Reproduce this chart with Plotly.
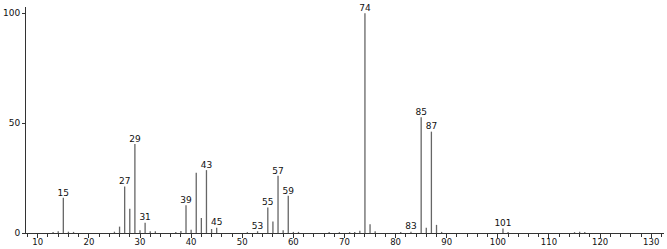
import plotly.graph_objects as go

mz = [13, 14, 15, 16, 17, 25, 26, 27, 28, 29, 30, 31, 32, 33, 37, 38, 39, 40, 41, 42, 43, 44, 45,
      51, 53, 55, 56, 57, 58, 59, 60, 61, 67, 69, 71, 72, 73, 74, 75, 76, 81, 83, 85, 86, 87, 88, 89,
      101, 102, 115, 116, 117]
intensity = [0.5, 0.8, 16.0, 0.6, 0.5, 0.6, 2.9, 21.1, 11.0, 40.5, 1.3, 4.7, 0.8, 0.8, 0.5, 0.9, 12.6, 1.5, 27.4, 6.8, 28.6, 1.8, 2.4,
             0.4, 0.8, 11.6, 5.2, 26.0, 1.3, 16.9, 0.5, 0.5, 0.4, 0.4, 0.4, 0.5, 1.0, 100.0, 4.0, 0.8, 0.4, 0.6, 52.6, 2.4, 46.1, 3.7, 0.5,
             2.1, 0.5, 0.4, 0.6, 0.4]

label_mz = [15, 27, 29, 31, 39, 43, 45, 53, 55, 57, 59, 74, 83, 85, 87, 101]
label_text = ["15", "27", "29", "31", "39", "43", "45", "53", "55", "57", "59", "74", "83", "85", "87", "101"]

x_ticks = [10, 20, 30, 40, 50, 60, 70, 80, 90, 100, 110, 120, 130]
x_tick_text = ["10", "20", "30", "40", "50", "60", "70", "80", "90", "100", "110", "120", "130"]
y_ticks = [0, 50, 100]
y_tick_text = ["0", "50", "100"]

lookup = dict(zip(mz, intensity))

xs, ys = [], []
for m, v in zip(mz, intensity):
    xs += [m, m, None]
    ys += [0, v, None]

fig = go.Figure()
fig.add_trace(go.Scatter(x=xs, y=ys, mode="lines", line=dict(color="#666666", width=1.3),
                         hoverinfo="skip", showlegend=False))
fig.add_trace(go.Scatter(x=label_mz, y=[lookup[m] for m in label_mz], mode="text",
                         text=label_text, textposition="top center", cliponaxis=False,
                         textfont=dict(family="DejaVu Sans", size=9, color="#111111"),
                         showlegend=False, hoverinfo="skip"))

fig.update_layout(
    width=667, height=249,
    margin=dict(l=26, r=3, t=7, b=16, autoexpand=False),
    paper_bgcolor="white", plot_bgcolor="white",
    font=dict(family="DejaVu Sans", size=9, color="#111111"),
    xaxis=dict(range=[7.7, 132.5], tickmode="array", tickvals=x_ticks, ticktext=x_tick_text,
               showgrid=False, zeroline=False, showline=True, linecolor="#333333", linewidth=1,
               ticks="outside", ticklen=4, tickcolor="#333333", tickwidth=1, automargin=False,
               ticklabelstandoff=-3,
               minor=dict(tickmode="linear", tick0=0, dtick=2, ticks="outside", ticklen=3,
                          tickcolor="#333333", tickwidth=1),
               tickfont=dict(size=8.5)),
    yaxis=dict(range=[0, 102.8], tickmode="array", tickvals=y_ticks, ticktext=y_tick_text,
               showgrid=False, zeroline=False, showline=True, linecolor="#333333", linewidth=1,
               ticks="outside", ticklen=3, tickcolor="#333333", tickwidth=1, automargin=False,
               tickfont=dict(size=9)),
)

fig.write_html("out.html")
